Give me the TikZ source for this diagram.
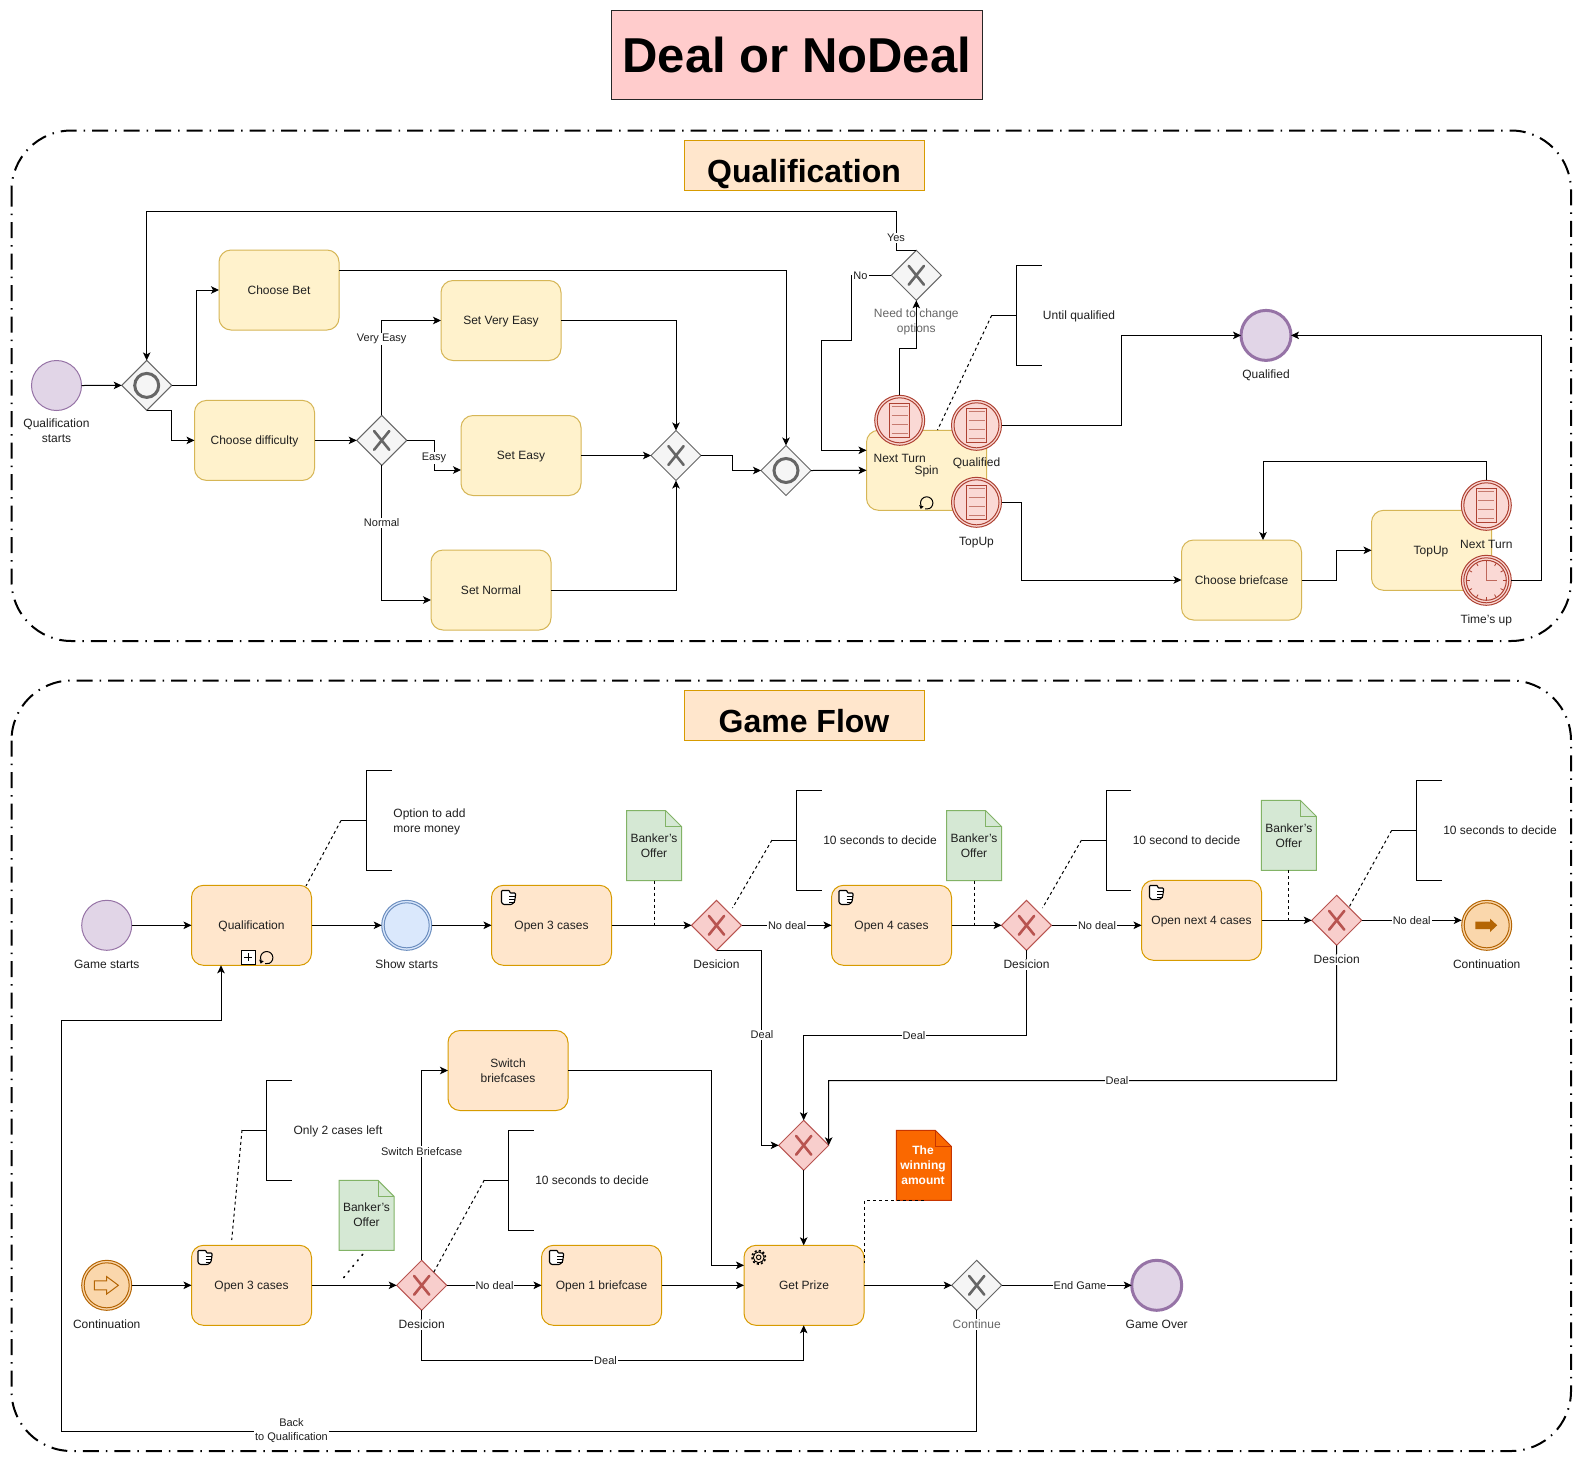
\documentclass[tikz,border=0pt]{standalone}
\usepackage{fontspec}
\setmainfont{Liberation Sans}
\usetikzlibrary{shapes.geometric,arrows.meta,calc}
\definecolor{tyf}{HTML}{FFF2CC}\definecolor{tyd}{HTML}{D6B656}
\definecolor{tof}{HTML}{FFE6CC}\definecolor{tod}{HTML}{D79B00}
\definecolor{gyf}{HTML}{F5F5F5}\definecolor{gyd}{HTML}{666666}
\definecolor{grf}{HTML}{F8CECC}\definecolor{grd}{HTML}{B85450}
\definecolor{puf}{HTML}{E1D5E7}\definecolor{pud}{HTML}{9673A6}
\definecolor{blf}{HTML}{DAE8FC}\definecolor{bld}{HTML}{6C8EBF}
\definecolor{orf}{HTML}{FAD7AC}\definecolor{ord}{HTML}{B46504}
\definecolor{rdf}{HTML}{FAD9D5}\definecolor{rdd}{HTML}{AE4132}
\definecolor{nof}{HTML}{D5E8D4}\definecolor{nod}{HTML}{82B366}
\definecolor{wnf}{HTML}{FA6800}\definecolor{wnd}{HTML}{C73500}
\definecolor{ttl}{HTML}{FFCCCC}
\tikzset{
  basefont/.style={font=\fontsize{12}{15}\selectfont,text=black!88},
  sl/.style={text height=9.8pt,text depth=1.6pt},
  taskbox/.style={rectangle,rounded corners=12pt,minimum width=120pt,minimum height=80pt,inner sep=0pt,outer sep=0pt,line width=1pt,align=center,basefont},
  tasky/.style={taskbox,fill=tyf,draw=tyd},
  tasko/.style={taskbox,fill=tof,draw=tod},
  gatebase/.style={diamond,minimum width=50pt,minimum height=50pt,aspect=1,inner sep=0pt,outer sep=0pt,line width=1pt},
  gategrey/.style={gatebase,fill=gyf,draw=gyd},
  gatered/.style={gatebase,fill=grf,draw=grd},
  evbase/.style={circle,minimum size=50pt,inner sep=0pt,outer sep=0pt,line width=1pt},
  evpurple/.style={evbase,fill=puf,draw=pud},
  evend/.style={evbase,fill=puf,draw=pud,line width=3pt},
  evblue/.style={evbase,fill=blf,draw=bld},
  evorange/.style={evbase,fill=orf,draw=ord},
  evred/.style={evbase,fill=rdf,draw=rdd},
  lab/.style={basefont,inner sep=0pt,outer sep=0pt,align=center},
  greylab/.style={lab,text=gyd},
  evlab/.style={lab,sl,yshift=-1pt},
  gatelab/.style={evlab,fill=white,inner xsep=1pt},
  elab/.style={font=\fontsize{11}{14}\selectfont,text=black!88,fill=white,inner sep=1pt,outer sep=0pt,align=center},
  conn/.style={line width=1pt,-{Stealth[length=8pt,width=7.5pt,inset=2pt]}},
  plain/.style={line width=1pt},
  assoc/.style={line width=1pt,dash pattern=on 3pt off 3pt},
  frame/.style={line width=2pt,rounded corners=60pt,dash pattern=on 16pt off 7pt on 1.5pt off 7pt},
  head/.style={rectangle,fill=tof,draw=tod,line width=1pt,minimum width=240pt,minimum height=50pt,inner sep=0pt},
  headtext/.style={inner sep=0pt,font=\fontsize{32}{36}\selectfont\bfseries},
}
\newcommand\markX[2]{\draw[#2,line width=2.6pt,line cap=round] ([shift={(-7.6pt,-9.4pt)}]#1.center) -- ([shift={(7.6pt,9.4pt)}]#1.center) ([shift={(-7.6pt,9.4pt)}]#1.center) -- ([shift={(7.6pt,-9.4pt)}]#1.center);}
\newcommand\markO[1]{\draw[gyd,line width=3pt] (#1.center) circle[radius=12pt];}
\newcommand\ringin[2]{\draw[#2,line width=1pt] (#1.center) circle[radius=22.5pt];}
\newcommand\docicon[1]{\begin{scope}[shift={(#1.center)}]
  \draw[rdd,line width=1pt] (-10,-17) rectangle (10,17);
  \draw[rdd!70,line width=1.3pt] (-8,-13.5) -- (8,-13.5) (-8,-4.5) -- (8,-4.5) (-8,4.5) -- (8,4.5) (-8,13.5) -- (8,13.5);
\end{scope}}
\newcommand\clockicon[1]{\begin{scope}[shift={(#1.center)}]
  \draw[rdd,line width=1pt] (0,0) circle[radius=20pt];
  \foreach \a in {0,30,...,330}{\draw[rdd,line width=.8pt] (\a:16.5pt) -- (\a:19.5pt);}
  \draw[rdd!80,line width=1.2pt] (0,-18) -- (0,0) -- (11,0);
\end{scope}}
\newcommand\handicon[1]{\begin{scope}[shift={(#1)}]
  \draw[line width=1.1pt,fill=white,rounded corners=.8pt] (0.5,0.5) -- (8.5,0.5) -- (9,3) -- (14.5,3) -- (14.5,6) -- (14,9) -- (13.5,12) -- (10.5,14.5) -- (2.5,14.5) -- (0.5,12.5) -- cycle;
  \draw[line width=1pt] (8,6) -- (14.5,6) (8,9) -- (14,9) (8,12) -- (13.5,12);
\end{scope}}
\newcommand\gearicon[1]{\begin{scope}[shift={(#1)}]
  \draw[line width=1.7pt,dash pattern=on 2pt off 2.2pt] (0,0) circle[radius=6.7pt];
  \draw[line width=.9pt,fill=tof] (0,0) circle[radius=5.4pt];
  \draw[line width=.9pt] (0,0) circle[radius=2.3pt];
\end{scope}}
\newcommand\loopicon[1]{\begin{scope}[shift={(#1)}]
  \draw[line width=1pt] (205:6.2pt) arc[start angle=205,end angle=-105,radius=6.2pt];
  \fill (-7.5,2) -- (-3,3.5) -- (-6,6) -- cycle;
\end{scope}}
\newcommand\plusicon[1]{\begin{scope}[shift={(#1)}]
  \draw[line width=1pt,fill=white] (-7,-7) rectangle (7,7);
  \draw[line width=1pt] (-4,0) -- (4,0) (0,-4) -- (0,4);
\end{scope}}
\newcommand\noteshape[4]{\begin{scope}[shift={(#1,#2)}]
  \draw[fill=#3,draw=#4,line width=1pt,line join=miter] (-27.5,-35) -- (11.5,-35) -- (27.5,-19) -- (27.5,35) -- (-27.5,35) -- cycle;
  \draw[draw=#4,line width=1pt] (11.5,-35) -- (11.5,-19) -- (27.5,-19);
\end{scope}}
\newcommand\bracketshape[5]{\draw[plain] (#2,#5-50) -- (#3,#5-50) -- (#3,#5+50) -- (#2,#5+50) (#3,#5) -- (#4,#5) coordinate (#1);}
\begin{document}
\begin{tikzpicture}[x=1pt,y=-1pt]
\useasboundingbox (0,0) rectangle (1582,1462);
\fill[white] (0,0) rectangle (1582,1462);
% frames and headings
\draw[frame] (11.5,130.5) rectangle (1571,641);
\draw[frame] (11.5,680.5) rectangle (1571,1451);
\node[rectangle,fill=ttl,draw=black!85,line width=.8pt,minimum width=370.5pt,minimum height=89.5pt,inner sep=0pt,font=\fontsize{49}{52}\selectfont\bfseries] (title) at (796.7,55) {Deal or NoDeal};
\node[head] (hq) at (804,165.5) {};
\node[headtext] (hqt) at (804,174) {Qualification};
\node[head] (hg) at (804,715) {};
\node[headtext] (hgt) at (804,721) {Game Flow};

% ---------- Qualification nodes
\node[evpurple] (qs) at (56.5,385.5) {};
\node[lab] (qsl) at (56.5,431) {Qualification\\starts};
\node[gategrey] (g1) at (146.7,385.4) {}; \markO{g1}
\node[tasky,sl] (bet) at (279,290) {Choose Bet};
\node[tasky,sl] (diff) at (254.5,440.4) {Choose difficulty};
\node[gategrey] (g2) at (381.7,440.4) {}; \markX{g2}{gyd}
\node[tasky,sl] (vez) at (501,320.5) {Set Very Easy};
\node[tasky,sl] (ez) at (521,455.5) {Set Easy};
\node[tasky,sl] (nm) at (491,590) {Set Normal};
\node[gategrey] (g3) at (676,455.5) {}; \markX{g3}{gyd}
\node[gategrey] (g4) at (786,470.5) {}; \markO{g4}
\node[tasky] (spin) at (926.5,470.3) {};
\loopicon{926.7,503}
\node[gategrey] (need) at (916.3,275.3) {}; \markX{need}{gyd}
\node[evred] (nt) at (899.7,420.3) {}; \ringin{nt}{rdd} \docicon{nt}
\node[evred] (qu) at (976.5,425.3) {}; \ringin{qu}{rdd} \docicon{qu}
\node[evred] (tu) at (976.5,502.3) {}; \ringin{tu}{rdd} \docicon{tu}
\node[evend] (qe) at (1266,335.4) {};
\node[tasky,sl] (brief) at (1241.5,580) {Choose briefcase};
\node[tasky] (top) at (1431.5,550.3) {};
\node[evred] (nt2) at (1486.3,505.3) {}; \ringin{nt2}{rdd} \docicon{nt2}
\node[evred] (tm) at (1486.3,580.3) {}; \ringin{tm}{rdd} \clockicon{tm}

% ---------- Qualification connectors
\draw[conn] (qs.east) -- (g1.west);
\draw[conn] (g1.east) -- (196,385.4) |- (bet.west);
\draw[conn] (g1.south) -- (171,410.4) |- (diff.west);
\draw[conn] (diff.east) -- (g2.west);
\draw[conn] ([yshift=20pt]bet.east) -| (g4.north);
\draw[conn] (need.north) -| (896,211) -| (g1.north);
\draw[conn] (need.west) -| (851,340) -| (821,450.3) -- ([yshift=20pt]spin.west);
\draw[conn] (g2.north) |- (vez.west);
\draw[conn] (g2.east) -| (434,470) -- ([yshift=-14.5pt]ez.west);
\draw[conn] (g2.south) |- ([yshift=-10pt]nm.west);
\draw[conn] (vez.east) -| (g3.north);
\draw[conn] (ez.east) -- (g3.west);
\draw[conn] (nm.east) -| (g3.south);
\draw[conn] (g3.east) -| (732,470.5) -- (g4.west);
\draw[conn] (g4.east) -- (spin.west);
\draw[conn] (nt.north) |- (916.3,348) -- (need.south);
\draw[conn] (qu.east) -| (1121.7,335.4) -- (qe.west);
\draw[conn] (tu.east) -| (1021.7,580) -- (brief.west);
\draw[conn] (brief.east) -| (1336,550.3) -- (top.west);
\draw[conn] (nt2.north) |- (1263,461) -- ([xshift=21.5pt]brief.north);
\draw[conn] (tm.east) -| (1541.7,335.4) -- (qe.east);
\bracketshape{bq}{1041.7}{1016.3}{991.7}{315.3}
\draw[assoc] (bq) -- ([shift={(11pt,40.3pt)}]spin.center);

% ---------- Qualification labels
\node[lab,sl] (ts) at (926.5,470) {Spin};
\node[lab,sl] (ttop) at (1431,550) {TopUp};
\node[greylab] (needl) at (916.3,322) {Need to change\\options};
\node[lab,sl] (ntl) at (899.7,458.5) {Next Turn};
\node[lab,sl] (qul) at (976.5,462.5) {Qualified};
\node[lab,sl] (tul) at (976.5,541) {TopUp};
\node[evlab] (qel) at (1266,373.5) {Qualified};
\node[evlab] (nt2l) at (1486.3,543.3) {Next Turn};
\node[evlab] (tml) at (1486.3,618.7) {Time's up};
\node[lab,sl] (uq) at (1079,315) {Until qualified};
\node[elab] (ey) at (896,238) {Yes};
\node[elab] (en) at (860.5,275.3) {No};
\node[elab] (eve) at (381.7,339) {Very Easy};
\node[elab] (eea) at (434,458) {Easy};
\node[elab] (eno) at (381.7,523) {Normal};

% ---------- Game flow nodes
\node[evpurple] (gs) at (106.7,925.3) {};
\node[tasko,sl] (qq) at (251.5,925.3) {Qualification};
\plusicon{248.3,957.3} \loopicon{266.7,957.7}
\node[evblue] (ss) at (406.7,925.3) {}; \ringin{ss}{bld}
\node[tasko,sl] (o3) at (551.5,925.3) {Open 3 cases};
\handicon{501,890}
\node[gatered] (d1) at (716.5,925.3) {}; \markX{d1}{grd}
\node[tasko,sl] (o4) at (891.5,925.3) {Open 4 cases};
\handicon{838.5,890}
\node[gatered] (d2) at (1026.5,925.3) {}; \markX{d2}{grd}
\node[tasko,sl] (n4) at (1201.5,920.3) {Open next 4 cases};
\handicon{1149,885}
\node[gatered] (d3) at (1336.7,920.3) {}; \markX{d3}{grd}
\node[evorange] (c1) at (1486.7,925.3) {}; \ringin{c1}{ord}
\begin{scope}[shift={(c1.center)}]
  \fill[ord] (-11.3,-3.7) -- (3.3,-3.7) -- (3.3,-6.7) -- (10.5,0) -- (3.3,6.7) -- (3.3,3.7) -- (-11.3,3.7) -- cycle;
\end{scope}
\noteshape{654}{845.5}{nof}{nod}
\node[lab] (n1) at (654,845.5) {Banker's\\Offer};
\noteshape{974}{845.5}{nof}{nod}
\node[lab] (n2) at (974,845.5) {Banker's\\Offer};
\noteshape{1288.8}{835.3}{nof}{nod}
\node[lab] (n3) at (1288.8,835.3) {Banker's\\Offer};
\node[evorange] (c2) at (106.7,1285.3) {}; \ringin{c2}{ord}
\begin{scope}[shift={(c2.center)}]
  \draw[ord,fill=orf,line width=1pt] (-12.3,-4.5) -- (0,-4.5) -- (0,-8.7) -- (11.7,0) -- (0,8.7) -- (0,4.5) -- (-12.3,4.5) -- cycle;
\end{scope}
\node[tasko,sl] (p3) at (251.5,1285.3) {Open 3 cases};
\handicon{197.5,1250}
\noteshape{366.5}{1215.3}{nof}{nod}
\node[lab] (n4n) at (366.5,1214.5) {Banker's\\Offer};
\node[gatered] (dd) at (421.7,1285.3) {}; \markX{dd}{grd}
\node[tasko] (sw) at (508,1070.5) {Switch\\briefcases};
\node[tasko,sl] (o1) at (601.5,1285.3) {Open 1 briefcase};
\handicon{549,1250}
\node[gatered] (xf) at (803.7,1145.3) {}; \markX{xf}{grd}
\node[tasko,sl] (pz) at (804,1285.3) {Get Prize};
\gearicon{758.7,1257.3}
\noteshape{923.8}{1165.3}{wnf}{wnd}
\node[lab,text=white,font=\fontsize{12}{15}\selectfont\bfseries] (wn) at (923,1165) {The\\winning\\amount};
\node[gategrey] (ct) at (976.7,1285.3) {}; \markX{ct}{gyd}
\node[evend] (ge) at (1156.7,1285.3) {};

% ---------- Game flow connectors
\draw[conn] (gs.east) -- (qq.west);
\draw[conn] (qq.east) -- (ss.west);
\draw[conn] (ss.east) -- (o3.west);
\draw[conn] (o3.east) -- (d1.west);
\draw[conn] (d1.east) -- (o4.west);
\draw[conn] (o4.east) -- (d2.west);
\draw[conn] (d2.east) -- (d2.east -| n4.west);
\draw[conn] (n4.east) -- (d3.west);
\draw[conn] (d3.east) -- (d3.east -| c1.west);
\draw[conn] (d1.south) -- (761.3,950.3) |- (xf.west);
\draw[conn] (d2.south) |- (803.7,1035.5) -- (xf.north);
\draw[conn] (d3.south) |- (828.5,1080.5) -- (xf.east);
\draw[conn] (xf.south) -- (pz.north -| xf.south);
\draw[conn] (c2.east) -- (p3.west);
\draw[conn] (p3.east) -- (dd.west);
\draw[conn] (dd.east) -- (o1.west);
\draw[conn] (o1.east) -- (pz.west);
\draw[conn] (dd.north) |- (sw.west);
\draw[conn] (sw.east) -- (711.5,1070.5) |- ([yshift=20pt]pz.west);
\draw[conn] (dd.south) |- (803.7,1360.5) -- (pz.south -| 803.7,1360.5);
\draw[conn] (pz.east) -- (ct.west);
\draw[conn] (ct.east) -- (ge.west);
\draw[conn] (ct.south) |- (61.5,1431) |- (221,1020) -- ([xshift=-30.5pt]qq.south);
\draw[assoc] (n1.center |- 654,880.5) -- (d1.west -| n1.center);
\draw[assoc] (n2.center |- 974,880.5) -- (d2.west -| n2.center);
\draw[assoc] (n3.center |- 1288.8,870.3) -- (d3.west -| n3.center);
\draw[line width=1.6pt,dash pattern=on 1.2pt off 6pt,line cap=round] ([shift={(-3.8pt,-39.8pt)}]n4n.center) -- ([shift={(-24.8pt,-65.5pt)}]n4n.center);
\draw[assoc] ([xshift=.8pt,yshift=-35.3pt]wn.center) -- (864.3,1200.3) -- ([shift={(60.3pt,22.3pt)}]pz.center);
\bracketshape{b1}{391.5}{366.5}{341}{820.5}
\draw[assoc] (b1) -- ([shift={(54.5pt,39.3pt)}]qq.center);
\bracketshape{b2}{821.5}{796}{772}{840}
\draw[assoc] (b2) -- ([shift={(16pt,17.3pt)}]d1.center);
\bracketshape{b3}{1131}{1106}{1081.5}{840}
\draw[assoc] (b3) -- ([shift={(16pt,17.3pt)}]d2.center);
\bracketshape{b4}{1441.7}{1416.7}{1391.7}{830.3}
\draw[assoc] (b4) -- ([shift={(12.6pt,13.6pt)}]d3.center);
\bracketshape{b5}{291.6}{266.4}{242}{1130}
\draw[assoc] (b5) -- ([shift={(-19.8pt,45.3pt)}]p3.center);
\bracketshape{b6}{533.7}{508.5}{484.3}{1180}
\draw[assoc] (b6) -- ([shift={(11.6pt,12.3pt)}]dd.center);

% ---------- Game flow labels
\node[evlab] (gsl) at (106.7,963.7) {Game starts};
\node[evlab] (ssl) at (406.7,963.7) {Show starts};
\node[evlab] (d1l) at (716.5,963.7) {Desicion};
\node[gatelab] (d2l) at (1026.5,963.7) {Desicion};
\node[gatelab] (d3l) at (1336.7,958.7) {Desicion};
\node[evlab] (c1l) at (1486.7,963.7) {Continuation};
\node[evlab] (c2l) at (106.7,1323.7) {Continuation};
\node[gatelab] (ddl) at (421.7,1323.7) {Desicion};
\node[gatelab,text=gyd] (ctl) at (976.7,1323.7) {Continue};
\node[evlab] (gel) at (1156.7,1323.7) {Game Over};
\node[lab,align=left] (t1) at (429.5,821.5) {Option to add\\more money};
\node[lab,sl] (t2) at (880,840) {10 seconds to decide};
\node[lab,sl] (t3) at (1186.5,840) {10 second to decide};
\node[lab,sl] (t4) at (1500,830) {10 seconds to decide};
\node[lab,sl] (t5) at (338,1130) {Only 2 cases left};
\node[lab,sl] (t6) at (592,1180) {10 seconds to decide};
\node[elab] (e1) at (787,925.3) {No deal};
\node[elab] (e2) at (1097,925.3) {No deal};
\node[elab] (e3) at (1411.7,920.3) {No deal};
\node[elab] (e4) at (762,1035) {Deal};
\node[elab] (e5) at (914,1035.5) {Deal};
\node[elab] (e6) at (1117,1080.5) {Deal};
\node[elab] (e7) at (421.7,1151.5) {Switch Briefcase};
\node[elab] (e8) at (494.5,1285.3) {No deal};
\node[elab] (e9) at (605.5,1360.5) {Deal};
\node[elab] (e10) at (1080,1285.3) {End Game};
\node[elab] (e11) at (291.5,1430.5) {Back\\to Qualification};
\end{tikzpicture}
\end{document}
